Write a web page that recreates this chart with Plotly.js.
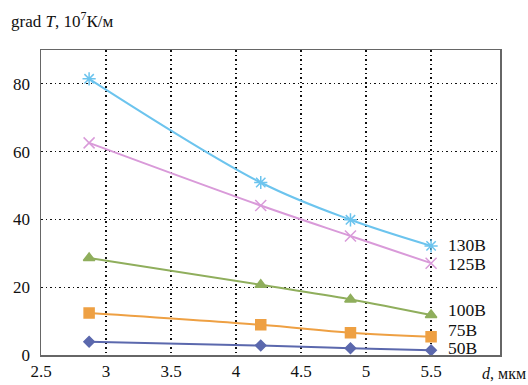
<!DOCTYPE html>
<html><head><meta charset="utf-8">
<script src="https://cdn.plot.ly/plotly-3.0.1.min.js"></script>
<style>body{margin:0;background:#fff}#c{width:528px;height:385px}</style>
</head><body><div id="c"></div>
<script>
const thickness = [2.87, 4.19, 4.88, 5.5];
const seriesNames = ["130В", "125В", "100В", "75В", "50В"];
const v130 = [81.5, 50.9, 39.9, 32.2];
const v125 = [62.6, 44.1, 35.1, 27.1];
const v100 = [28.6, 20.7, 16.4, 11.8];
const v75 = [12.4, 8.9, 6.6, 5.4];
const v50 = [3.9, 2.8, 2.0, 1.4];
const xTicks = [2.5, 3, 3.5, 4, 4.5, 5, 5.5];
const yTicks = [0, 20, 40, 60, 80];

const values = [v130, v125, v100, v75, v50];
const colors = ["#6cc4ee", "#d99ad9", "#8fae5c", "#eea043", "#5b68ad"];
const symbols = ["asterisk-open", "x-thin-open", "triangle-up", "square", "diamond"];
const sizes = [11, 11, 10, 10, 8];
const labelYOffset = [1, -1, 5, 7, 2];

const traces = values.map((v, i) => ({
  x: thickness, y: v, type: "scatter", mode: "lines+markers",
  line: {color: colors[i], width: 2, shape: "spline", smoothing: 1},
  marker: {symbol: symbols[i], color: colors[i], size: sizes[i], line: {color: colors[i], width: 1.5}},
  name: seriesNames[i], showlegend: false, hoverinfo: "skip"
}));

const FAM = "Liberation Serif, serif";
const annotations = values.map((v, i) => ({
  x: thickness[3], y: v[3], xref: "x", yref: "y", text: seriesNames[i],
  showarrow: false, xanchor: "left", yanchor: "middle", xshift: 15, yshift: labelYOffset[i],
  font: {family: FAM, size: 17.5, color: "#111"}
}));
annotations.push({
  xref: "paper", yref: "paper", x: 1.061, y: -0.06, xanchor: "right", yanchor: "middle",
  text: "<i>d</i>, мкм", showarrow: false, font: {family: FAM, size: 16, color: "#111"}
});
annotations.push({
  xref: "paper", yref: "paper", x: -0.07, y: 1.055, xanchor: "left", yanchor: "bottom",
  text: "grad <i>T</i>, 10<sup>7</sup>К/м", showarrow: false, font: {family: FAM, size: 17, color: "#111"}
});

const layout = {
  width: 528, height: 385,
  margin: {l: 41, r: 28, t: 50, b: 30},
  paper_bgcolor: "#fff", plot_bgcolor: "#fff",
  font: {family: FAM, color: "#111", size: 17},
  xaxis: {range: [2.5, 6.03], tickvals: xTicks, ticktext: xTicks.map(String),
    showgrid: true, gridcolor: "#111", griddash: "1.5px,3px", gridwidth: 1.2,
    zeroline: false, showline: true, mirror: true, linecolor: "#666", linewidth: 1.5,
    ticks: "", tickfont: {family: FAM, size: 17, color: "#111"}},
  yaxis: {range: [0, 90], tickvals: yTicks,
    showgrid: true, gridcolor: "#111", griddash: "1.5px,3px", gridwidth: 1.2,
    zeroline: false, showline: true, mirror: true, linecolor: "#666", linewidth: 1.5,
    ticks: "", ticklabelstandoff: 6, tickfont: {family: FAM, size: 17, color: "#111"}},
  annotations: annotations
};
Plotly.newPlot("c", traces, layout, {displayModeBar: false, staticPlot: true});
</script></body></html>
